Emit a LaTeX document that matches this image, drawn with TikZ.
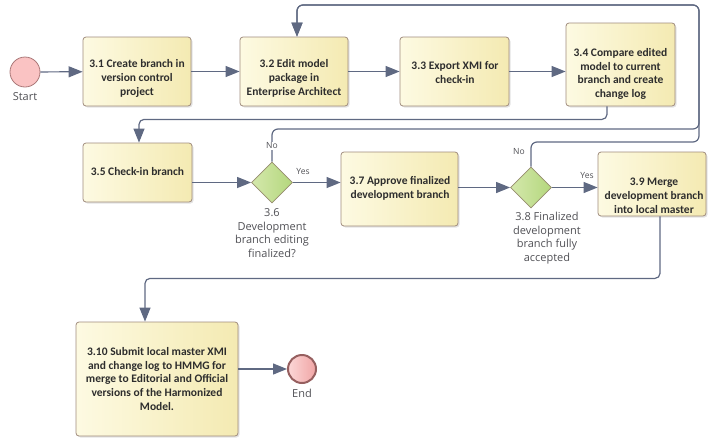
\documentclass[tikz,border=0pt]{standalone}
\usepackage{fontspec}
\setmainfont{Carlito}
\newfontfamily\lblfont{Open Sans}
\usepackage{xcolor}
\usepackage{tikz}
\usetikzlibrary{positioning,arrows.meta,shapes.geometric,shadows,calc}

\definecolor{boxL}{RGB}{253,250,226}
\definecolor{boxR}{RGB}{244,234,178}
\definecolor{boxline}{RGB}{160,140,125}
\definecolor{gateL}{RGB}{212,232,172}
\definecolor{gateR}{RGB}{180,215,125}
\definecolor{gateline}{RGB}{150,140,110}
\definecolor{startfill}{RGB}{250,195,195}
\definecolor{startline}{RGB}{170,120,120}
\definecolor{endL}{RGB}{252,215,215}
\definecolor{endR}{RGB}{240,165,165}
\definecolor{endline}{RGB}{150,95,95}
\definecolor{lineclr}{RGB}{95,105,130}
\definecolor{txt}{RGB}{45,45,45}
\definecolor{gtxt}{RGB}{80,80,85}

\begin{document}
\begin{tikzpicture}[
      x=1pt, y=-1pt,
      box/.style={draw=boxline, line width=0.8pt, rounded corners=3pt,
                  left color=boxL, right color=boxR, inner sep=0pt,
                  drop shadow={shadow xshift=1.5pt, shadow yshift=-1.5pt, opacity=0.22}},
      btxt/.style={align=center, text=txt, inner sep=0pt,
                   font=\bfseries\fontsize{11.5}{13.8}\selectfont},
      gate/.style={diamond, draw=gateline, line width=0.8pt, left color=gateL,
                   right color=gateR, minimum width=41pt, minimum height=41pt, inner sep=0pt},
      gtxt/.style={align=center, text=gtxt, inner sep=0pt,
                   font=\lblfont\fontsize{11}{13.6}\selectfont},
      cond/.style={text=gtxt, inner sep=1pt, font=\lblfont\fontsize{8.5}{10}\selectfont},
      startev/.style={circle, draw=startline, line width=0.8pt, fill=startfill,
                      minimum size=30pt, inner sep=0pt},
      endev/.style={circle, draw=endline, line width=2pt, left color=endL,
                    right color=endR, minimum size=28pt, inner sep=0pt},
      conn/.style={draw=lineclr, line width=1.2pt, -{Triangle[length=14pt, width=11pt]}},
    ]
    \useasboundingbox (0,0) rectangle (718,445);

    % events and activities
    \node[startev] (evstart) at (25,72) {};
    \node[gtxt] (lstart) at (25,97) {Start};
    \node[box, minimum width=108pt, minimum height=69pt] (b31) at (137,71.5) {};
    \node[btxt] (t31) at (137,78.5) {3.1 Create branch in\\version control\\project};
    \node[box, minimum width=108pt, minimum height=69pt] (b32) at (294,71.5) {};
    \node[btxt] (t32) at (294,78.5) {3.2 Edit model\\package in\\Enterprise Architect};
    \node[box, minimum width=109pt, minimum height=69pt] (b33) at (454.5,71.5) {};
    \node[btxt] (t33) at (455,72.5) {3.3 Export XMI for\\check-in};
    \node[box, minimum width=109pt, minimum height=83pt] (b34) at (620.5,64.5) {};
    \node[btxt] (t34) at (620.5,74) {3.4 Compare edited\\model to current\\branch and create\\change log};
    \node[box, minimum width=109pt, minimum height=59pt] (b35) at (137.5,172.5) {};
    \node[btxt] (t35) at (137.5,172) {3.5 Check-in branch};
    \node[gate] (d36) at (272,182.5) {};
    \node[gtxt] (l36) at (272,233) {3.6\\Development\\branch editing\\finalized?};
    \node[box, minimum width=117pt, minimum height=74pt] (b37) at (399.5,189) {};
    \node[btxt] (t37) at (400,188.5) {3.7 Approve finalized\\development branch};
    \node[gate] (d38) at (531,187.5) {};
    \node[gtxt] (l38) at (547,238) {3.8 Finalized\\development\\branch fully\\accepted};
    \node[box, minimum width=108pt, minimum height=64pt] (b39) at (652,184) {};
    \node[btxt] (t39) at (654,195.5) {3.9 Merge\\development branch\\into local master};
    \node[box, minimum width=162pt, minimum height=114pt] (b310) at (157,379) {};
    \node[btxt] (t310) at (157,379) {3.10 Submit local master XMI\\and change log to HMMG for\\merge to Editorial and Official\\versions of the Harmonized\\Model.};
    \node[endev] (evend) at (302,369) {};
    \node[gtxt] (lend) at (302,393) {End};

    % flows
    \draw[conn] (evstart) -- (b31);
    \draw[conn] (b31) -- (b32);
    \draw[conn] (b32) -- (b33);
    \draw[conn] (b33.east) -- (b33.east -| b34.west);
    \draw[conn, rounded corners=5pt] ([xshift=-13.5pt]b34.south) -- ++(0,13) -| ([xshift=1.5pt]b35.north);
    \draw[conn] (b35.east |- d36.west) -- (d36.west);
    \draw[conn] (d36.east) -- (d36.east -| b37.west);
    \draw[conn] (b37.east |- d38.west) -- (d38.west);
    \draw[conn] (d38.east) -- (d38.east -| b39.west);
    \draw[conn, rounded corners=6pt] (d36.north) |- (699,129) -- (699,5) -| ([xshift=3pt]b32.north);
    \draw[conn, rounded corners=6pt] (d38.north) |- (699,142) -- (699,5) -| ([xshift=3pt]b32.north);
    \draw[conn, rounded corners=5pt] ([xshift=8pt]b39.south) -- ++(0,62) -| ([xshift=-12pt]b310.north);
    \draw[conn] (b310.east |- evend) -- (evend);

    % gateway labels
    \node[cond, fill=white] (no36) at (272,146) {No};
    \node[cond] (yes36) at (303,172) {Yes};
    \node[cond] (no38) at (519,152) {No};
    \node[cond] (yes38) at (587,176) {Yes};
  \end{tikzpicture}
\end{document}
